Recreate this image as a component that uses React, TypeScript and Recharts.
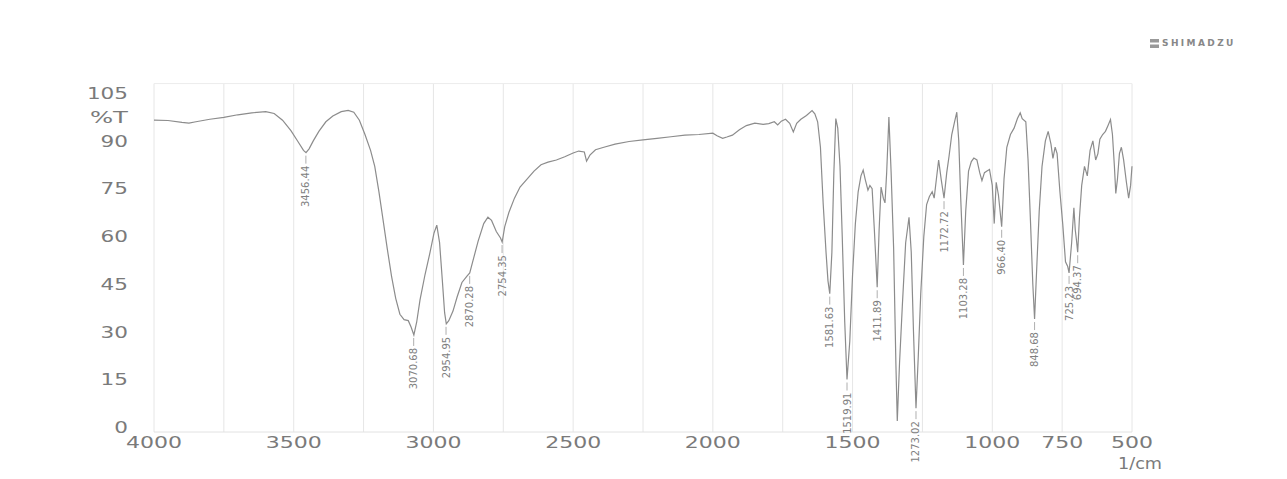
import React from "react";
import {
  ComposedChart,
  Line,
  Scatter,
  XAxis,
  YAxis,
  CartesianGrid,
  ReferenceLine,
} from "recharts";

// FTIR spectrum, %T against wavenumber (1/cm)
const wavenumbers = [
  4000, 3950, 3900, 3875, 3850, 3800, 3750, 3700, 3650, 3600,
  3570, 3540, 3510, 3485, 3465, 3456, 3445, 3430, 3410, 3385,
  3360, 3330, 3305, 3285, 3265, 3245, 3225, 3210, 3195, 3180,
  3165, 3150, 3135, 3120, 3105, 3090, 3080, 3070, 3060, 3048,
  3030, 3012, 2998, 2988, 2978, 2968, 2960, 2954, 2945, 2930,
  2915, 2898, 2880, 2870, 2858, 2840, 2820, 2805, 2792, 2775,
  2760, 2754, 2745, 2730, 2710, 2690, 2665, 2640, 2615, 2590,
  2560, 2530, 2500, 2480, 2460, 2452, 2440, 2420, 2390, 2350,
  2300, 2250, 2200, 2150, 2100, 2050, 2000, 1985, 1965, 1950,
  1930, 1905, 1880, 1850, 1820, 1800, 1780, 1768, 1755, 1740,
  1725, 1712, 1700, 1685, 1665, 1645, 1635, 1625, 1615, 1605,
  1595, 1588, 1581.63, 1574, 1567, 1560, 1553, 1545, 1537, 1528,
  1519.91, 1510, 1500, 1490, 1480, 1470, 1462, 1455, 1445, 1438,
  1430, 1422, 1411.89, 1405, 1398, 1390, 1384, 1378, 1370, 1362,
  1353, 1345, 1340, 1332, 1322, 1310, 1298, 1290, 1282, 1273.02,
  1265, 1256, 1245, 1235, 1225, 1215, 1208, 1200, 1192, 1183,
  1172.72, 1163, 1155, 1145, 1135, 1127, 1120, 1113, 1103.28, 1095,
  1085, 1075, 1066, 1055, 1045, 1037, 1028, 1019, 1010, 1000,
  993, 986, 978, 966.4, 958, 948, 935, 922, 910, 900,
  893, 880, 872, 863, 855, 848.68, 840, 832, 822, 810,
  800, 790, 783, 775, 768, 758, 748, 738, 730, 725.23,
  716, 708, 703, 699, 694.37, 688, 680, 670, 660, 650,
  640, 630, 622, 615, 605, 595, 585, 577, 570, 563,
  558, 552, 545, 538, 530, 520, 512, 505, 500,
];

const transmittance = [
  96.5, 96.4, 95.8, 95.6, 96.0, 96.8, 97.4, 98.2, 98.8, 99.2,
  98.6, 96.5, 93.2, 89.8, 87.0, 86.3, 87.5, 90.0, 93.0, 96.0,
  97.8, 99.2, 99.6, 99.0, 96.5, 92.0, 87.0, 82.0, 74.0, 65.0,
  56.0, 47.5, 40.5, 35.5, 33.8, 33.5, 31.5, 29.0, 33.0, 40.0,
  48.0, 55.0, 61.0, 63.5, 58.0, 46.0, 36.0, 32.5, 33.5, 36.5,
  41.0, 45.5, 47.5, 48.5, 52.5, 58.5, 64.0, 66.0, 65.0, 61.5,
  59.5, 58.2, 63.0, 67.5, 72.0, 75.5, 78.0, 80.5, 82.5, 83.3,
  84.0, 85.0, 86.2, 86.8, 86.5, 83.6, 85.5, 87.2, 88.0, 89.0,
  89.8, 90.3, 90.8, 91.3, 91.8, 92.0, 92.4, 91.6, 90.8, 91.2,
  91.8, 93.5, 94.8, 95.6, 95.2, 95.4, 96.0, 95.0, 96.2, 96.8,
  95.5, 92.8, 95.5, 96.8, 98.0, 99.5, 98.5, 96.0, 88.0, 70.0,
  55.0, 46.0, 42.0, 55.0, 80.0, 97.0, 94.0, 82.0, 60.0, 33.0,
  15.0, 27.0, 48.0, 64.0, 74.0, 79.0, 80.8, 78.0, 74.5, 76.0,
  75.0, 62.0, 44.0, 62.0, 75.5, 72.0, 70.5, 80.0, 97.5, 80.0,
  56.0, 20.0, 2.0, 20.0, 38.0, 58.0, 66.0, 55.0, 30.0, 6.0,
  22.0, 42.0, 60.0, 70.0, 72.5, 74.0, 72.0, 78.0, 84.0, 78.0,
  72.0, 80.0, 85.0, 92.0, 96.0, 99.0, 90.0, 72.0, 51.0, 68.0,
  80.5, 83.5, 84.6, 84.0, 80.0, 77.5, 80.0, 80.5, 81.0, 76.0,
  64.0, 77.0, 73.0, 63.0, 78.0, 88.0, 92.0, 94.0, 97.0, 98.8,
  97.0, 96.0, 84.0, 64.0, 45.0, 34.0, 52.0, 68.0, 82.0, 90.0,
  93.0, 89.0, 84.5, 88.0, 86.0, 74.0, 64.0, 52.0, 50.5, 48.5,
  58.0, 69.0, 62.0, 59.0, 55.0, 66.0, 76.0, 82.0, 79.0, 87.0,
  90.0, 84.0, 86.0, 90.5, 92.0, 93.0, 95.0, 96.7, 92.0, 82.0,
  73.5, 78.0, 86.0, 88.0, 84.0, 77.0, 72.0, 76.0, 82.0,
];

const peakWavenumbers = [
  3456.44, 3070.68, 2954.95, 2870.28, 2754.35, 1581.63, 1519.91, 1411.89,
  1273.02, 1172.72, 1103.28, 966.4, 848.68, 725.23, 694.37,
];
const peakTransmittance = [
  86.3, 29.0, 32.5, 48.5, 58.2, 42.0, 15.0, 44.0, 6.0, 72.0, 51.0, 63.0,
  34.0, 48.5, 55.0,
];
const peakLabels = [
  "3456.44", "3070.68", "2954.95", "2870.28", "2754.35", "1581.63",
  "1519.91", "1411.89", "1273.02", "1172.72", "1103.28", "966.40",
  "848.68", "725.23", "694.37",
];

const xTickLabels = [4000, 3500, 3000, 2500, 2000, 1500, 1000, 750, 500];
const gridWavenumbers = [
  4000, 3750, 3500, 3250, 3000, 2750, 2500, 2250, 2000, 1750, 1500, 1250,
  1000, 750, 500,
];
const yTickValues = [0, 15, 30, 45, 60, 75, 90, 105];

const spectrum = wavenumbers.map((w, i) => ({ w, t: transmittance[i] }));
const peaks = peakWavenumbers.map((w, i) => ({
  w,
  t: peakTransmittance[i],
  label: peakLabels[i],
}));

const INK = "#7a7a7a";
const FONT = "'DejaVu Sans', Verdana, sans-serif";

function XTick({ x, y, payload }: any) {
  const v = payload.value;
  if (!xTickLabels.includes(v)) return <g />;
  const s = String(v);
  return (
    <g>
      <text
        x={x}
        y={y + 16}
        textAnchor="middle"
        fill={INK}
        fontSize={16}
        fontFamily={FONT}
        textLength={s.length * 14}
        lengthAdjust="spacingAndGlyphs"
      >
        {s}
      </text>
      {v === 500 && (
        <text
          x={x - 14}
          y={y + 37}
          fill={INK}
          fontSize={16}
          fontFamily={FONT}
          textLength={44}
          lengthAdjust="spacingAndGlyphs"
        >
          1/cm
        </text>
      )}
    </g>
  );
}

function YTick({ x, y, payload }: any) {
  const s = String(payload.value);
  return (
    <g>
      <text
        x={x}
        y={y}
        dy="0.36em"
        textAnchor="end"
        fill={INK}
        fontSize={16}
        fontFamily={FONT}
        textLength={s.length * 13.7}
        lengthAdjust="spacingAndGlyphs"
      >
        {s}
      </text>
      {payload.value === 105 && (
        <text
          x={x}
          y={y + 24}
          dy="0.36em"
          textAnchor="end"
          fill={INK}
          fontSize={16}
          fontFamily={FONT}
          textLength={38}
          lengthAdjust="spacingAndGlyphs"
        >
          %T
        </text>
      )}
    </g>
  );
}

// peak tick + vertical wavenumber label hanging under each band minimum
function PeakMark({ cx, cy, payload }: any) {
  if (cx == null || cy == null) return <g />;
  const tx = cx + 3.5;
  const ty = cy + 13;
  return (
    <g>
      <line x1={cx} x2={cx} y1={cy + 3} y2={cy + 11} stroke="#9a9a9a" strokeWidth={0.8} />
      <text
        x={tx}
        y={ty}
        transform={`rotate(-90 ${tx} ${ty})`}
        textAnchor="end"
        fontSize={10}
        fontFamily={FONT}
        fill="#808080"
      >
        {payload.label}
      </text>
    </g>
  );
}

export default function App() {
  return (
    <div style={{ position: "relative", width: 1271, height: 471, marginBottom: -8 }}>
      <ComposedChart
        width={1271}
        height={471}
        margin={{ top: 75.6, right: 147, bottom: 0, left: 86 }}
      >
        <CartesianGrid horizontal={false} stroke="#e6e6e6" />
        <XAxis
          type="number"
          dataKey="w"
          domain={[500, 4000]}
          reversed
          ticks={gridWavenumbers}
          interval={0}
          height={47}
          tickSize={0}
          tickMargin={0}
          tickLine={false}
          axisLine={{ stroke: "#e2e2e2" }}
          tick={<XTick />}
        />
        <YAxis
          type="number"
          domain={[-1.5, 108]}
          ticks={yTickValues}
          interval={0}
          width={60}
          tickSize={0}
          tickMargin={26}
          tickLine={false}
          axisLine={false}
          tick={<YTick />}
        />
        <ReferenceLine y={108} stroke="#ececec" />
        <Line
          data={spectrum}
          dataKey="t"
          type="linear"
          stroke="#8c8c8c"
          strokeWidth={1.2}
          dot={false}
          isAnimationActive={false}
        />
        <Scatter
          data={peaks}
          dataKey="t"
          shape={<PeakMark />}
          isAnimationActive={false}
        />
      </ComposedChart>
      <div
        style={{
          position: "absolute",
          left: 1142,
          top: 30,
          display: "flex",
          alignItems: "center",
          gap: 3,
          color: "#888",
          fontFamily: FONT,
          fontSize: 9,
          fontWeight: "bold",
          letterSpacing: 2.4,
        }}
      >
        <svg width={9} height={9}>
          <rect x={0} y={0} width={9} height={3.5} fill="#999" />
          <rect x={0} y={5.5} width={9} height={3.5} fill="#999" />
        </svg>
        <span>SHIMADZU</span>
      </div>
    </div>
  );
}
